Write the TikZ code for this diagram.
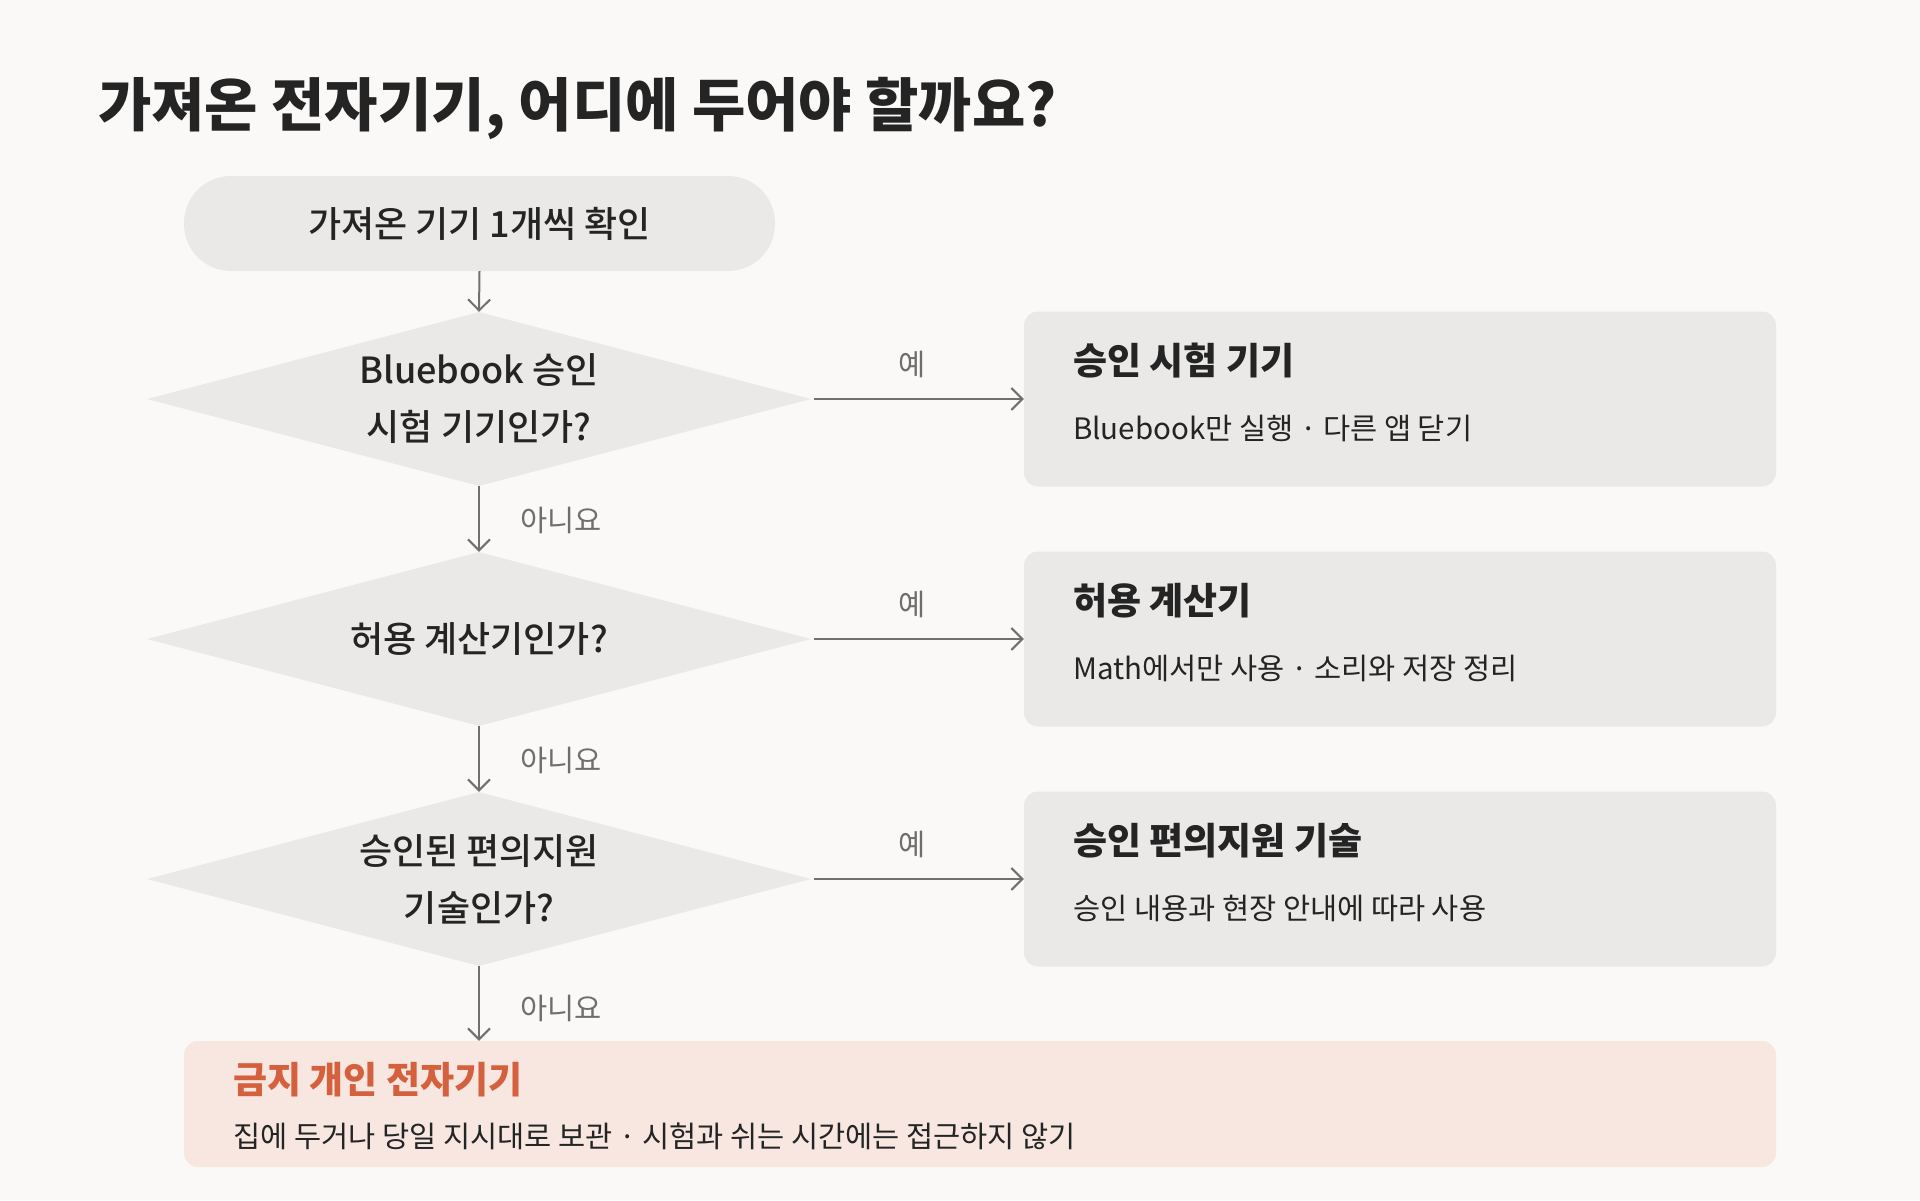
\documentclass[tikz,border=0pt]{standalone}
\usepackage{fontspec}
\setmainfont{Noto Sans CJK KR}
\newfontfamily\medfont{Noto Sans CJK KR Medium}
\usetikzlibrary{shapes.geometric,arrows.meta}
\definecolor{bg}{HTML}{FAF9F7}
\definecolor{boxfill}{HTML}{EAE9E7}
\definecolor{warnfill}{HTML}{F7E7E0}
\definecolor{ink}{HTML}{242424}
\definecolor{muted}{HTML}{6E6E6E}
\definecolor{alert}{HTML}{D5603D}
\definecolor{arrowc}{HTML}{707070}
\begin{document}
\begin{tikzpicture}[x=1pt,y=-1pt,
  pill/.style={fill=boxfill, rounded corners=47pt, minimum width=591pt, minimum height=95pt, inner sep=0pt, font=\medfont\fontsize{36}{43}\selectfont, text=ink},
  decision/.style={diamond, fill=boxfill, aspect=3.8, inner sep=0pt, minimum width=664pt, minimum height=174pt, align=center, font=\medfont\fontsize{36}{57}\selectfont, text=ink},
  result/.style={fill=boxfill, rounded corners=14pt, minimum width=752pt, minimum height=175pt, inner sep=0pt},
  warnbox/.style={fill=warnfill, rounded corners=14pt, minimum width=1592pt, minimum height=126pt, inner sep=0pt},
  rtitle/.style={anchor=west, inner sep=0pt, font=\bfseries\fontsize{37}{44}\selectfont, text=ink},
  rsub/.style={anchor=west, inner sep=0pt, font=\fontsize{29.5}{35}\selectfont, text=ink},
  lbl/.style={inner sep=0pt, font=\fontsize{29.5}{35}\selectfont, text=muted},
  flow/.style={draw=arrowc, line width=2pt, -{Straight Barb[length=11pt,width=22pt]}}
]
\useasboundingbox (0,0) rectangle (1920,1200);
\fill[bg] (0,0) rectangle (1920,1200);

\node[anchor=west, inner sep=0pt, font=\bfseries\fontsize{58}{64}\selectfont, text=ink] (title) at (98,108) {가져온 전자기기, 어디에 두어야 할까요?};

\node[pill] (start) at (479.5,223.5) {가져온 기기 1개씩 확인};

\node[decision] (d1) at (479,399) {Bluebook 승인\\시험 기기인가?};
\node[decision] (d2) at (479,639) {허용 계산기인가?};
\node[decision] (d3) at (479,879) {승인된 편의지원\\기술인가?};

\node[result] (r1) at (1400,399) {};
\node[result] (r2) at (1400,639) {};
\node[result] (r3) at (1400,879) {};
\node[warnbox] (w) at (980,1104) {};

\node[rtitle] (r1t) at (1073,361) {승인 시험 기기};
\node[rsub] (r1s) at (1073,428) {Bluebook만 실행 · 다른 앱 닫기};
\node[rtitle] (r2t) at (1073,601) {허용 계산기};
\node[rsub] (r2s) at (1073,668) {Math에서만 사용 · 소리와 저장 정리};
\node[rtitle] (r3t) at (1073,841) {승인 편의지원 기술};
\node[rsub] (r3s) at (1073,908) {승인 내용과 현장 안내에 따라 사용};
\node[rtitle, text=alert, font=\bfseries\fontsize{37}{44}\selectfont] (wt) at (233,1080) {금지 개인 전자기기};
\node[rsub] (ws) at (233,1136) {집에 두거나 당일 지시대로 보관 · 시험과 쉬는 시간에는 접근하지 않기};

\draw[flow] (start.south) -- (d1.north);
\draw[flow] (d1.south) -- (d2.north);
\draw[flow] (d2.south) -- (d3.north);
\draw[flow] (d3.south) -- (d3.south |- w.north);
\draw[flow, shorten <=3pt] (d1.east) -- (r1.west);
\draw[flow, shorten <=3pt] (d2.east) -- (r2.west);
\draw[flow, shorten <=3pt] (d3.east) -- (r3.west);

\node[lbl] (y1) at (912,364) {예};
\node[lbl] (y2) at (912,604) {예};
\node[lbl] (y3) at (912,844) {예};
\node[lbl, anchor=west] (n1) at (520,520) {아니요};
\node[lbl, anchor=west] (n2) at (520,760) {아니요};
\node[lbl, anchor=west] (n3) at (520,1008) {아니요};
\end{tikzpicture}
\end{document}
